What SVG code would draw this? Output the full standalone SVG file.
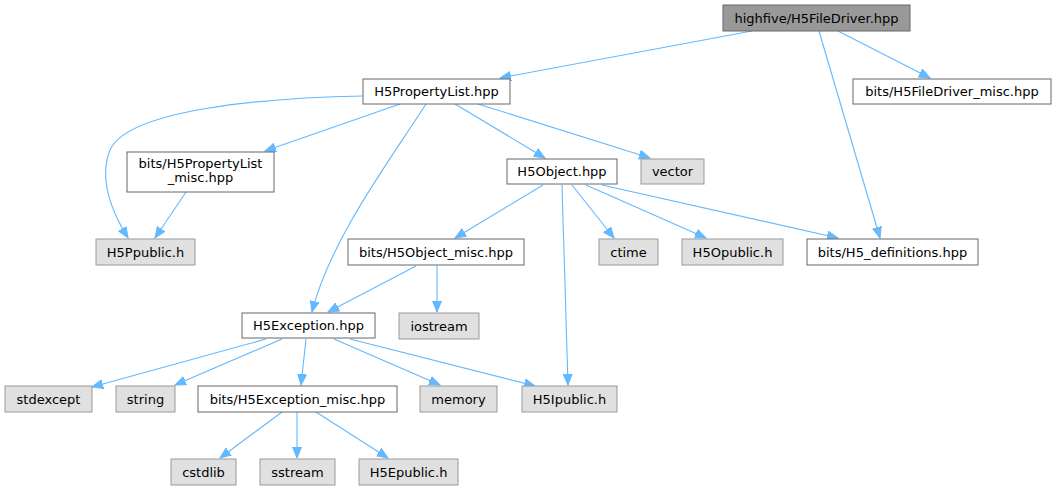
<svg xmlns="http://www.w3.org/2000/svg" width="1057" height="491" viewBox="0 0 1057 491">
<defs>
<style>
.n rect{fill:#ffffff;stroke:#666666;stroke-width:1}
.g rect{fill:#e0e0e0;stroke:#999999;stroke-width:1}
.r rect{fill:#999999;stroke:#666666;stroke-width:1}
text{font-family:"DejaVu Sans",sans-serif;font-size:13px;fill:#000000;text-anchor:middle}
.e path,.e line{fill:none;stroke:#63b8ff;stroke-width:1.1;marker-end:url(#a)}
</style>
<marker id="a" markerUnits="userSpaceOnUse" markerWidth="12" markerHeight="10" refX="11" refY="5" orient="auto">
<path d="M0,0.5 L11,5 L0,9.5 z" fill="#63b8ff" stroke="#63b8ff" stroke-width="1"/>
</marker>
</defs>
<rect x="0" y="0" width="1057" height="491" fill="#ffffff"/>
<g class="e" id="edges">
<line x1="752" y1="31" x2="500" y2="78"/>
<line x1="838" y1="31" x2="930" y2="78"/>
<line x1="819" y1="31" x2="880" y2="238"/>
<path d="M363,96 C260,98 128,110 110,150 C98,180 112,212 128,238"/>
<line x1="400" y1="104" x2="265" y2="151"/>
<path d="M426,104 C390,160 330,240 312,312"/>
<line x1="455" y1="104" x2="545" y2="158"/>
<line x1="478" y1="104" x2="650" y2="158"/>
<line x1="186" y1="192" x2="155" y2="238"/>
<line x1="543" y1="185" x2="455" y2="238"/>
<line x1="562" y1="185" x2="568" y2="385"/>
<line x1="572" y1="185" x2="614" y2="238"/>
<line x1="586" y1="185" x2="706" y2="238"/>
<line x1="602" y1="185" x2="838" y2="238"/>
<line x1="416" y1="266" x2="328" y2="312"/>
<line x1="437" y1="266" x2="437" y2="312"/>
<line x1="266" y1="339" x2="92" y2="387"/>
<line x1="282" y1="339" x2="175" y2="385"/>
<line x1="306" y1="339" x2="301" y2="385"/>
<line x1="334" y1="339" x2="440" y2="385"/>
<line x1="350" y1="339" x2="535" y2="386"/>
<line x1="282" y1="412" x2="220" y2="458"/>
<line x1="297" y1="412" x2="297" y2="458"/>
<line x1="316" y1="412" x2="388" y2="458"/>
</g>
<g id="n_filedriver" class="r"><rect x="723" y="5" width="187" height="26"/><text x="816.5" y="22.5">highfive/H5FileDriver.hpp</text></g>
<g id="n_filedriver_misc" class="n"><rect x="853" y="79" width="198" height="25"/><text x="952" y="96">bits/H5FileDriver_misc.hpp</text></g>
<g id="n_propertylist" class="n"><rect x="363" y="79" width="147" height="25"/><text x="436.5" y="96">H5PropertyList.hpp</text></g>
<g id="n_propertylist_misc" class="n"><rect x="127" y="152" width="147" height="40"/><text x="200.5" y="168">bits/H5PropertyList</text><text x="200.5" y="182">_misc.hpp</text></g>
<g id="n_h5ppublic" class="g"><rect x="96" y="239" width="99" height="26"/><text x="145.5" y="256.5">H5Ppublic.h</text></g>
<g id="n_h5object" class="n"><rect x="507" y="159" width="110" height="25"/><text x="562" y="176">H5Object.hpp</text></g>
<g id="n_vector" class="g"><rect x="641" y="159" width="63" height="25"/><text x="672.5" y="176">vector</text></g>
<g id="n_ctime" class="g"><rect x="599" y="239" width="59" height="26"/><text x="628.5" y="256.5">ctime</text></g>
<g id="n_h5opublic" class="g"><rect x="682" y="239" width="101" height="26"/><text x="732.5" y="256.5">H5Opublic.h</text></g>
<g id="n_h5defs" class="n"><rect x="807" y="239" width="171" height="26"/><text x="892.5" y="256.5">bits/H5_definitions.hpp</text></g>
<g id="n_object_misc" class="n"><rect x="348" y="239" width="176" height="26"/><text x="436" y="256.5">bits/H5Object_misc.hpp</text></g>
<g id="n_exception" class="n"><rect x="242" y="313" width="133" height="25"/><text x="308.5" y="330">H5Exception.hpp</text></g>
<g id="n_iostream" class="g"><rect x="399" y="313" width="80" height="26"/><text x="439" y="330.5">iostream</text></g>
<g id="n_stdexcept" class="g"><rect x="5" y="386" width="87" height="26"/><text x="48.5" y="403.5">stdexcept</text></g>
<g id="n_string" class="g"><rect x="116" y="386" width="59" height="26"/><text x="145.5" y="403.5">string</text></g>
<g id="n_exception_misc" class="n"><rect x="198" y="386" width="199" height="26"/><text x="297.5" y="403.5">bits/H5Exception_misc.hpp</text></g>
<g id="n_memory" class="g"><rect x="420" y="386" width="77" height="26"/><text x="458.5" y="403.5">memory</text></g>
<g id="n_h5ipublic" class="g"><rect x="522" y="386" width="95" height="26"/><text x="569.5" y="403.5">H5Ipublic.h</text></g>
<g id="n_cstdlib" class="g"><rect x="171" y="459" width="65" height="26"/><text x="203.5" y="476.5">cstdlib</text></g>
<g id="n_sstream" class="g"><rect x="260" y="459" width="75" height="26"/><text x="297.5" y="476.5">sstream</text></g>
<g id="n_h5epublic" class="g"><rect x="359" y="459" width="99" height="26"/><text x="408.5" y="476.5">H5Epublic.h</text></g>
</svg>
